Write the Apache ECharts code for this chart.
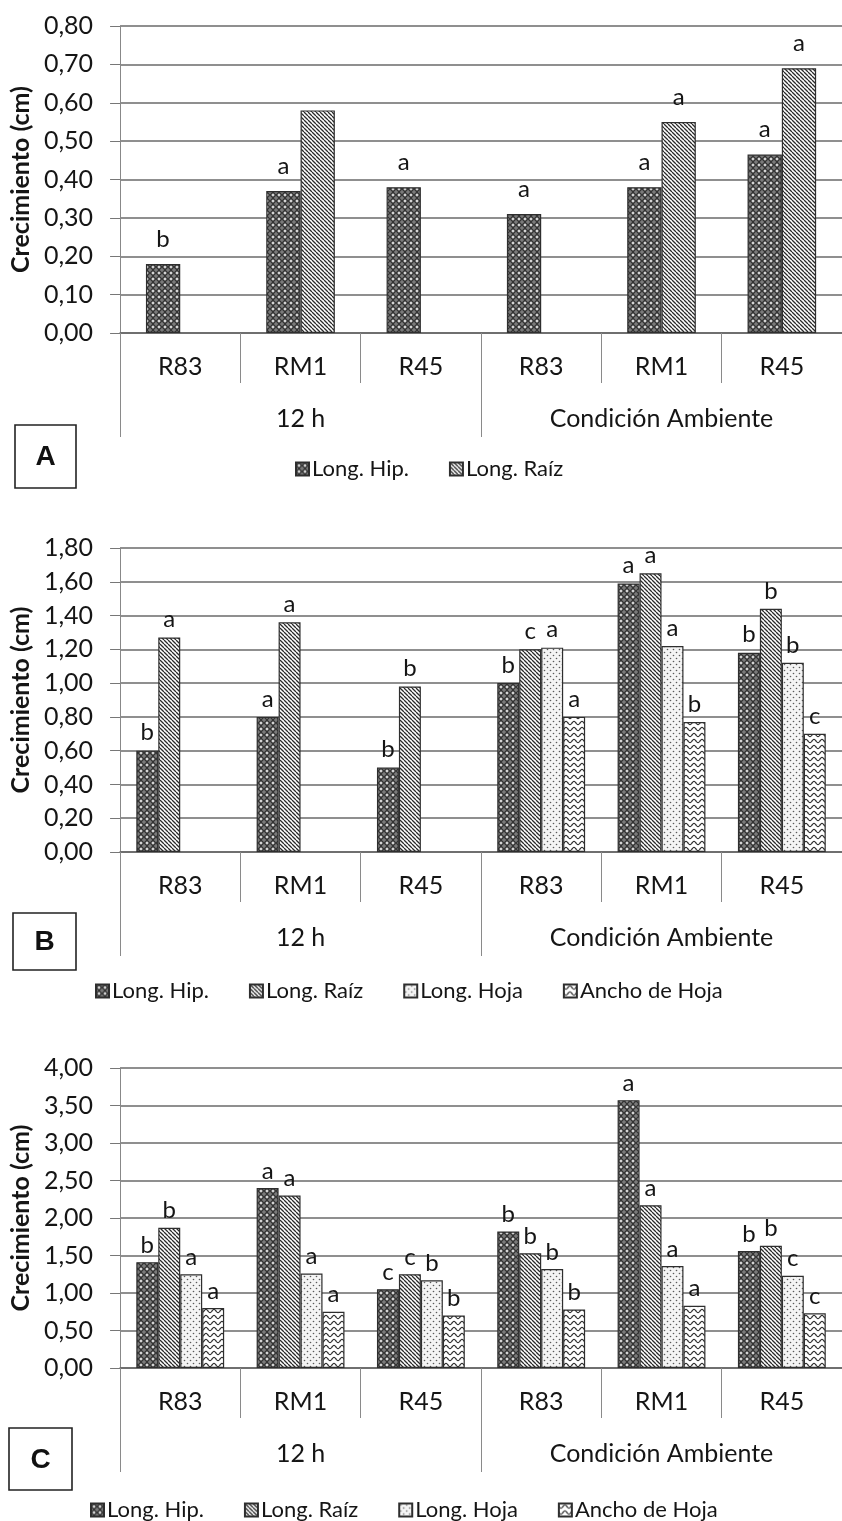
<!DOCTYPE html>
<html>
<head>
<meta charset="utf-8">
<script src="https://cdn.jsdelivr.net/npm/echarts@6/dist/echarts.min.js"></script>
<style>
  html, body { margin: 0; padding: 0; background: #ffffff; }
  #chart { width: 842px; height: 1521px; }
</style>
</head>
<body>
<div id="chart"></div>
<script>
// Categories shared by the three panels
const categories = ['R83', 'RM1', 'R45', 'R83', 'RM1', 'R45'];
const groups = ['12 h', 'Condición Ambiente'];
const seriesNames = ['Long. Hip.', 'Long. Raíz', 'Long. Hoja', 'Ancho de Hoja'];

// Panel A (cm)
const aHip  = [0.18, 0.37, 0.38, 0.31, 0.38, 0.465];
const aRaiz = [null, 0.58, null, null, 0.55, 0.69];
const aHipLetters  = ['b', 'a', 'a', 'a', 'a', 'a'];
const aRaizLetters = ['', '', '', '', 'a', 'a'];
const aAxis = { max: 0.8, interval: 0.1 };

// Panel B (cm)
const bHip   = [0.60, 0.80, 0.50, 1.00, 1.59, 1.18];
const bRaiz  = [1.27, 1.36, 0.98, 1.20, 1.65, 1.44];
const bHoja  = [null, null, null, 1.21, 1.22, 1.12];
const bAncho = [null, null, null, 0.80, 0.77, 0.70];
const bHipLetters   = ['b', 'a', 'b', 'b', 'a', 'b'];
const bRaizLetters  = ['a', 'a', 'b', 'c', 'a', 'b'];
const bHojaLetters  = ['', '', '', 'a', 'a', 'b'];
const bAnchoLetters = ['', '', '', 'a', 'b', 'c'];
const bAxis = { max: 1.8, interval: 0.2 };

// Panel C (cm)
const cHip   = [1.41, 2.40, 1.05, 1.82, 3.57, 1.56];
const cRaiz  = [1.87, 2.30, 1.25, 1.53, 2.17, 1.63];
const cHoja  = [1.25, 1.26, 1.17, 1.32, 1.36, 1.23];
const cAncho = [0.80, 0.75, 0.70, 0.78, 0.83, 0.73];
const cHipLetters   = ['b', 'a', 'c', 'b', 'a', 'b'];
const cRaizLetters  = ['b', 'a', 'c', 'b', 'a', 'b'];
const cHojaLetters  = ['a', 'a', 'b', 'b', 'a', 'c'];
const cAnchoLetters = ['a', 'a', 'b', 'b', 'a', 'c'];
const cAxis = { max: 4, interval: 0.5 };

// ---- fill patterns ----
function tile(w, h, draw) {
  const c = document.createElement('canvas');
  c.width = w; c.height = h;
  draw(c.getContext('2d'), w, h);
  return c;
}
const hipTile = tile(6, 6, (g) => {
  g.fillStyle = '#7a7a7a'; g.fillRect(0, 0, 6, 6);
  g.strokeStyle = '#333333'; g.lineWidth = 1.1;
  g.beginPath();
  g.moveTo(3, 0); g.lineTo(9, 6);
  g.moveTo(-3, 0); g.lineTo(3, 6);
  g.moveTo(3, 0); g.lineTo(-3, 6);
  g.moveTo(9, 0); g.lineTo(3, 6);
  g.stroke();
  g.fillStyle = '#ffffff';
  g.beginPath(); g.arc(3, 3, 0.9, 0, Math.PI * 2); g.fill();
});
const raizTile = tile(4, 4, (g) => {
  g.fillStyle = '#ffffff'; g.fillRect(0, 0, 4, 4);
  g.strokeStyle = '#2a2a2a'; g.lineWidth = 1.3;
  g.beginPath();
  [-4, 0, 4].forEach(c => { g.moveTo(c, 0); g.lineTo(c + 4, 4); });
  g.stroke();
});
const hojaTile = tile(6, 6, (g) => {
  g.fillStyle = '#f4f4f4'; g.fillRect(0, 0, 6, 6);
  g.fillStyle = '#5a5a5a';
  [[1.5, 1.5], [4.5, 4.5]].forEach(([x, y]) => {
    g.beginPath(); g.arc(x, y, 0.8, 0, Math.PI * 2); g.fill();
  });
});
const anchoTile = tile(8, 6, (g) => {
  g.fillStyle = '#ffffff'; g.fillRect(0, 0, 8, 6);
  g.strokeStyle = '#303030'; g.lineWidth = 1.2;
  g.beginPath();
  for (let x = -1; x <= 9; x += 0.5) {
    const y = 3 + 1.6 * Math.sin(2 * Math.PI * x / 8);
    if (x === -1) g.moveTo(x, y); else g.lineTo(x, y);
  }
  g.stroke();
});
const fills = [hipTile, raizTile, hojaTile, anchoTile].map(t => ({ image: t, repeat: 'repeat' }));

// ---- shared styles ----
const FONT = 'Lato';
const TXT = '#151515';
const FS = 25;
const fmtComma = v => v.toFixed(2).replace('.', ',');

const grids = [
  { left: 118, right: -4, top: 26, height: 307 },
  { left: 118, right: -4, top: 548, height: 304 },
  { left: 118, right: -4, top: 1068, height: 300 }
];

function xAxesFor(gi) {
  return [
    {
      type: 'category', gridIndex: gi, data: categories, position: 'bottom',
      axisLine: { show: true, lineStyle: { color: '#666', width: 1.5 } },
      axisTick: { show: true, length: 50, lineStyle: { color: '#8a8a8a', width: 1 } },
      axisLabel: { color: TXT, fontFamily: FONT, fontSize: FS, margin: 21 }
    },
    {
      type: 'category', gridIndex: gi, data: groups, position: 'bottom', offset: 50,
      axisLine: { show: false },
      axisTick: { show: true, length: 54, lineStyle: { color: '#8a8a8a', width: 1 } },
      axisLabel: { color: TXT, fontFamily: FONT, fontSize: FS, margin: 23 }
    }
  ];
}

function yAxisFor(gi, ax) {
  return {
    type: 'value', gridIndex: gi, min: 0, max: ax.max, interval: ax.interval,
    name: 'Crecimiento (cm)', nameLocation: 'middle', nameRotate: 90, nameGap: 73,
    nameTextStyle: { color: TXT, fontFamily: FONT, fontSize: 25, fontWeight: 'bold' },
    axisLine: { show: true, lineStyle: { color: '#888', width: 1 } },
    axisTick: { show: true, length: 10, lineStyle: { color: '#777', width: 1 } },
    axisLabel: { color: TXT, fontFamily: FONT, fontSize: FS, margin: 27, formatter: fmtComma },
    splitLine: { show: true, lineStyle: { color: '#6a6a6a', width: 1.5 } }
  };
}

function barSeries(name, idx, data, letters, xi, yi, gap, dist) {
  return {
    type: 'bar', name: name, data: data,
    xAxisIndex: xi, yAxisIndex: yi,
    barGap: '0%', barCategoryGap: gap,
    itemStyle: { color: fills[idx], borderColor: '#2e2e2e', borderWidth: 1.2 },
    label: {
      show: true, position: 'top', distance: dist,
      color: TXT, fontFamily: FONT, fontSize: 24,
      formatter: p => letters[p.dataIndex] || ''
    }
  };
}

function legendFor(names, top, left) {
  return {
    data: names.map(n => ({ name: n, icon: 'rect' })),
    top: top, left: left, orient: 'horizontal',
    itemWidth: 13, itemHeight: 13, itemGap: 40, selectedMode: false,
    textStyle: { color: TXT, fontFamily: FONT, fontSize: 22, padding: [0, 0, 0, -2] }
  };
}

function panelBox(x, y, w, h, letter) {
  return [
    { type: 'rect', shape: { x: x, y: y, width: w, height: h },
      style: { fill: '#ffffff', stroke: '#222', lineWidth: 1.6 }, z: 10 },
    { type: 'text', x: x + w / 2, y: y + h / 2 + 1, z: 11,
      style: { text: letter, align: 'center', verticalAlign: 'middle',
               font: 'bold 28px "Liberation Sans"', fill: '#111' } }
  ];
}

const option = {
  animation: false,
  backgroundColor: '#ffffff',
  grid: grids,
  xAxis: [].concat(xAxesFor(0), xAxesFor(1), xAxesFor(2)),
  yAxis: [yAxisFor(0, aAxis), yAxisFor(1, bAxis), yAxisFor(2, cAxis)],
  legend: [
    legendFor(seriesNames.slice(0, 2), 453, 290),
    legendFor(seriesNames, 975, 90),
    legendFor(seriesNames, 1494, 85)
  ],
  series: [
    barSeries(seriesNames[0], 0, aHip, aHipLetters, 0, 0, '43%', 13),
    barSeries(seriesNames[1], 1, aRaiz, aRaizLetters, 0, 0, '43%', 13),

    barSeries(seriesNames[0], 0, bHip, bHipLetters, 2, 1, '27%', 6),
    barSeries(seriesNames[1], 1, bRaiz, bRaizLetters, 2, 1, '27%', 6),
    barSeries(seriesNames[2], 2, bHoja, bHojaLetters, 2, 1, '27%', 6),
    barSeries(seriesNames[3], 3, bAncho, bAnchoLetters, 2, 1, '27%', 6),

    barSeries(seriesNames[0], 0, cHip, cHipLetters, 4, 2, '27%', 5),
    barSeries(seriesNames[1], 1, cRaiz, cRaizLetters, 4, 2, '27%', 5),
    barSeries(seriesNames[2], 2, cHoja, cHojaLetters, 4, 2, '27%', 5),
    barSeries(seriesNames[3], 3, cAncho, cAnchoLetters, 4, 2, '27%', 5)
  ],
  graphic: [].concat(
    panelBox(15, 425, 61, 63, 'A'),
    panelBox(13, 913, 63, 57, 'B'),
    panelBox(9, 1428, 63, 62, 'C')
  )
};

const chart = echarts.init(document.getElementById('chart'), null, { renderer: 'canvas' });
chart.setOption(option);
</script>
</body>
</html>
